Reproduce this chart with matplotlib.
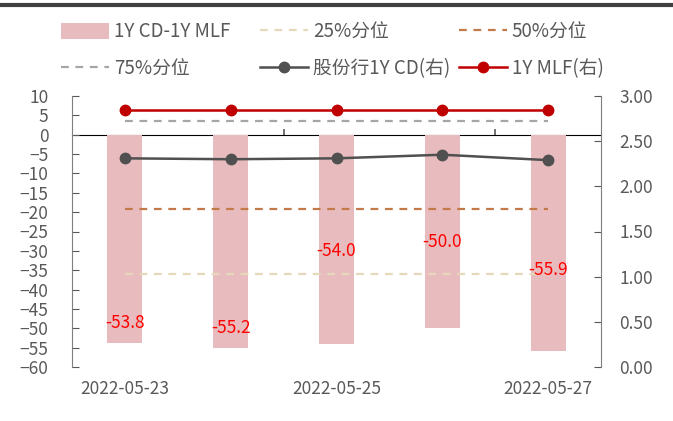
import matplotlib
matplotlib.use('Agg')
import matplotlib.pyplot as plt
from matplotlib.lines import Line2D

plt.rcParams['font.family'] = ['Noto Sans CJK SC', 'DejaVu Sans']

dates = ['2022-05-23', '2022-05-24', '2022-05-25', '2022-05-26', '2022-05-27']
spread = [-53.8, -55.2, -54.0, -50.0, -55.9]
label_y = [-48.7, -50.0, -30.0, -27.7, -35.0]
p25 = [-36.0] * 5
p50 = [-19.2] * 5
p75 = [3.6] * 5
cd = [2.31, 2.30, 2.31, 2.35, 2.29]
mlf = [2.85] * 5
shown_ticks = [0, 2, 4]

tick_color = '#595959'
fs = 12.5
x = list(range(len(dates)))

fig = plt.figure(figsize=(6.73, 4.21), dpi=100)
ax = fig.add_axes([72 / 673, 1 - 367 / 421, 529 / 673, 271 / 421])
ax2 = ax.twinx()

bars = ax.bar(x, spread, width=0.33, color='#E8BCBE', label='1Y CD-1Y MLF', zorder=1)
l25, = ax.plot(x, p25, color='#E6D8BA', lw=1.6, dashes=(3.5, 3), label='25%分位', zorder=2)
l50, = ax.plot(x, p50, color='#C47A48', lw=1.6, dashes=(3.5, 3), label='50%分位', zorder=2)
l75, = ax.plot(x, p75, color='#A6A6A6', lw=1.6, dashes=(3.5, 3), label='75%分位', zorder=2)

for xi, v, ly in zip(x, spread, label_y):
    ax.text(xi, ly, f'{v:.1f}', color='#FF0000', fontsize=fs, ha='center', va='center', zorder=5)

lcd, = ax2.plot(x, cd, color='#505050', lw=1.8, marker='o', ms=7.5, label='股份行1Y CD(右)')
lmlf, = ax2.plot(x, mlf, color='#C00000', lw=1.8, marker='o', ms=7.5, label='1Y MLF(右)')

ax.set_xlim(-0.5, 4.5)
ax.set_ylim(-60, 10)
ax.set_yticks(range(-60, 11, 5))
ax2.set_ylim(0, 3)
ax2.set_yticks([0, 0.5, 1, 1.5, 2, 2.5, 3])
ax2.set_yticklabels([f'{t:.2f}' for t in ax2.get_yticks()])

ax.set_xticks(shown_ticks)
ax.set_xticklabels([dates[i] for i in shown_ticks])
ax.tick_params(axis='x', length=0, pad=9, colors=tick_color, labelsize=fs)
ax.tick_params(axis='y', direction='in', length=5, pad=17, colors=tick_color, labelsize=fs)
ax2.tick_params(axis='y', direction='in', length=5, pad=13, colors=tick_color, labelsize=fs)

for a in (ax, ax2):
    a.spines['top'].set_visible(False)
    a.spines['bottom'].set_visible(False)
    a.spines['left'].set_color('#7F7F7F')
    a.spines['right'].set_color('#7F7F7F')
ax2.spines['left'].set_visible(False)
ax.spines['right'].set_visible(False)

# category axis drawn at zero
zero_pos = (0 - (-60)) / 70
sec = ax.secondary_xaxis(zero_pos)
sec.set_xticks([1.5, 3.5])
sec.set_xticklabels([])
sec.tick_params(axis='x', direction='out', length=4, color='#595959', width=1.2)
sec.spines['bottom'].set_color('#595959')
sec.spines['bottom'].set_linewidth(1.4)

# legend: three columns placed separately
columns = [[bars, l75], [l25, lcd], [l50, lmlf]]
col_x = [52, 251, 450]
for hs, cx in zip(columns, col_x):
    leg = fig.legend(handles=hs, labels=[h.get_label() for h in hs],
                     loc='upper left', bbox_to_anchor=(cx / 673, 1 - 12 / 421),
                     frameon=False, borderpad=0, fontsize=13.5, handlelength=2.55,
                     handleheight=0.9, labelspacing=0.85, handletextpad=0.25,
                     labelcolor='#595959')

fig.add_artist(Line2D([0, 1], [1 - 5 / 421, 1 - 5 / 421], color='#404040', lw=3,
                      transform=fig.transFigure))

fig.savefig('out.png', dpi=100)
